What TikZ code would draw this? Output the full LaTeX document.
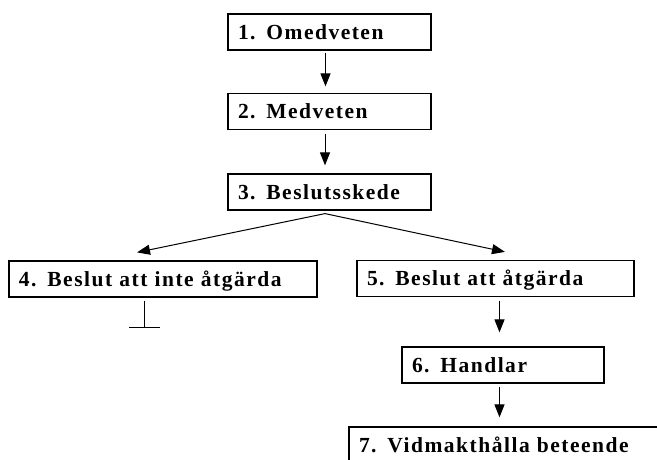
\documentclass[tikz,border=0pt]{standalone}
\usepackage{fontspec}
\newfontfamily\stagefont{Liberation Serif}[LetterSpace=7]
\usepackage{tikz}
\usetikzlibrary{arrows.meta}
\usetikzlibrary{positioning}
\tikzset{
    stage/.style={draw, line width=1.2pt, inner xsep=10pt, inner ysep=0pt,
                  minimum height=36pt, text height=14pt, text depth=0pt, align=left,
                  font=\stagefont\bfseries\fontsize{21.5}{22}\selectfont},
    flow/.style={-{Triangle[length=13pt,width=10pt]}, line width=1pt},
    halt/.style={-{Bar[width=31pt,line width=1pt]}, line width=1pt}
}

\begin{document}
\begin{tikzpicture}[x=1pt, y=-1pt]
            \useasboundingbox (0,0) rectangle (657,459);
            \clip (0,0) rectangle (657,459);
            \node[stage, text width=183pt] (b1) at (329.5, 32.0) {1. Omedveten};
            \node[stage, text width=183pt] (b2) at (329.5,111.5) {2. Medveten};
            \node[stage, text width=183pt] (b3) at (329.5,192.0) {3. Beslutsskede};
            \node[stage, text width=288pt] (b4) at (163.0,279.0) {4. Beslut att inte åtgärda};
            \node[stage, text width=257pt] (b5) at (495.5,278.5) {5. Beslut att åtgärda};
            \node[stage, text width=182pt] (b6) at (503.0,365.0) {6. Handlar};
            \node[stage, text width=310pt] (b7) at (514.0,445.0) {7. Vidmakthålla beteende};
            \coordinate (split) at ([xshift=-4.5pt,yshift=-3pt]b3.south);
            \draw[flow] ([xshift=-4pt,yshift=-2.7pt]b1.south) -- ([xshift=-4pt,yshift=6.5pt]b2.north);
            \draw[flow] ([xshift=-4.5pt,yshift=-3.5pt]b2.south) -- ([xshift=-4.5pt,yshift=8pt]b3.north);
            \draw[flow] (split) -- ([xshift=-26pt,yshift=8pt]b4.north);
            \draw[flow] (split) -- ([xshift=9.5pt,yshift=8pt]b5.north);
            \draw[halt] ([xshift=-19pt,yshift=-3pt]b4.south) -- ([xshift=-19pt,yshift=-30pt]b4.south);
            \draw[flow] ([xshift=4pt,yshift=-3.5pt]b5.south) -- ([xshift=-3.5pt,yshift=14pt]b6.north);
            \draw[flow] ([xshift=-3.5pt,yshift=-3pt]b6.south) -- ([xshift=-14.5pt,yshift=9pt]b7.north);
\end{tikzpicture}
\end{document}
